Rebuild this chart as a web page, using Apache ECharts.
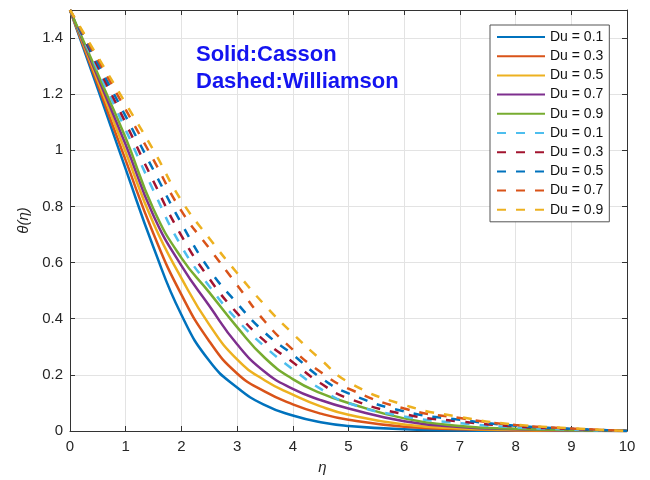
<!DOCTYPE html>
<html>
<head>
<meta charset="utf-8">
<script src="https://cdn.jsdelivr.net/npm/echarts@6/dist/echarts.min.js"></script>
<style>
html, body { margin: 0; padding: 0; background: #fff; }
#chart { width: 650px; height: 480px; }
</style>
</head>
<body>
<div id="chart"></div>
<script>
// eta grid shared by every curve
var eta = [0, 0.5, 1, 1.5, 2, 2.5, 3, 3.5, 4, 4.5, 5, 6, 7, 8, 9, 10];
var duLabels = ['Du = 0.1', 'Du = 0.3', 'Du = 0.5', 'Du = 0.7', 'Du = 0.9'];

// solid: Casson
var casson01 = [1.5, 1.218, 0.933, 0.654, 0.414, 0.25, 0.155, 0.092, 0.055, 0.031, 0.018, 0.006, 0.002, 0.0007, 0.0002, 0];
var casson03 = [1.5, 1.233, 0.964, 0.702, 0.486, 0.32, 0.205, 0.14, 0.095, 0.062, 0.04, 0.015, 0.006, 0.002, 0.0007, 0];
var casson05 = [1.5, 1.248, 0.993, 0.739, 0.545, 0.379, 0.255, 0.18, 0.13, 0.088, 0.058, 0.023, 0.009, 0.004, 0.0015, 0];
var casson07 = [1.5, 1.26, 1.02, 0.767, 0.589, 0.446, 0.309, 0.21, 0.15, 0.11, 0.08, 0.035, 0.014, 0.006, 0.002, 0];
var casson09 = [1.5, 1.272, 1.044, 0.79, 0.617, 0.494, 0.37, 0.26, 0.185, 0.135, 0.1, 0.045, 0.018, 0.008, 0.003, 0];

// dashed: Williamson
var will01 = [1.5, 1.286, 1.073, 0.856, 0.658, 0.516, 0.396, 0.3, 0.22, 0.15, 0.099, 0.052, 0.028, 0.013, 0.005, 0];
var will03 = [1.5, 1.298, 1.097, 0.889, 0.696, 0.543, 0.42, 0.32, 0.245, 0.17, 0.116, 0.06, 0.034, 0.016, 0.007, 0];
var will05 = [1.5, 1.31, 1.121, 0.929, 0.74, 0.576, 0.455, 0.35, 0.272, 0.19, 0.134, 0.07, 0.04, 0.019, 0.008, 0];
var will07 = [1.5, 1.323, 1.145, 0.966, 0.784, 0.651, 0.52, 0.39, 0.29, 0.21, 0.151, 0.08, 0.046, 0.021, 0.009, 0];
var will09 = [1.5, 1.333, 1.167, 1.0, 0.821, 0.687, 0.563, 0.448, 0.347, 0.255, 0.174, 0.093, 0.05, 0.023, 0.01, 0];

var cassonColors = ['#0072BD', '#D95319', '#EDB120', '#7E2F8E', '#77AC30'];
var willColors = ['#4DBEEE', '#A2142F', '#0072BD', '#D95319', '#EDB120'];

var cassonData = [casson01, casson03, casson05, casson07, casson09];
var willData = [will01, will03, will05, will07, will09];

var textColor = '#262626';
var axisColor = '#333';
var gridColor = '#e3e3e3';
var font = 'Liberation Sans, Arial, Helvetica, sans-serif';

function toPoints(vals) {
    return eta.map(function (x, i) { return [x, vals[i]]; });
}

function makeSeries(prefix, label, vals, color, dashed) {
    return {
        name: prefix + '|' + label,
        type: 'line',
        data: toPoints(vals),
        symbol: 'none',
        smooth: 0.5,
        color: color,
        lineStyle: {
            color: color,
            width: 2.5,
            type: dashed ? [9, 10] : 'solid'
        },
        animation: false
    };
}

var series = [];
var legendNames = [];
cassonData.forEach(function (vals, i) {
    series.push(makeSeries('C', duLabels[i], vals, cassonColors[i], false));
    legendNames.push('C|' + duLabels[i]);
});
willData.forEach(function (vals, i) {
    series.push(makeSeries('W', duLabels[i], vals, willColors[i], true));
    legendNames.push('W|' + duLabels[i]);
});

var chart = echarts.init(document.getElementById('chart'), null, {renderer: 'canvas'});

var option = {
    backgroundColor: '#fff',
    animation: false,
    grid: {left: 70, right: 23, top: 10, bottom: 43},
    legend: {
        data: legendNames,
        orient: 'vertical',
        left: 490,
        top: 25,
        padding: [5, 6, 5, 6],
        itemWidth: 48,
        itemHeight: 14,
        itemGap: 5.2,
        itemStyle: {opacity: 0},
        borderColor: '#555',
        borderWidth: 1,
        backgroundColor: '#fff',
        selectedMode: false,
        textStyle: {fontSize: 14, color: '#111', fontFamily: font},
        formatter: function (name) { return name.split('|')[1]; }
    },
    graphic: [
        {
            type: 'text',
            x: 196, y: 44,
            z: 100,
            style: {text: 'Solid:Casson', fill: '#1414f0', font: 'bold 22px ' + font, verticalAlign: 'alphabetic'}
        },
        {
            type: 'text',
            x: 196, y: 71,
            z: 100,
            style: {text: 'Dashed:Williamson', fill: '#1414f0', font: 'bold 22px ' + font, verticalAlign: 'alphabetic'}
        }
    ],
    xAxis: [
        {
            type: 'value',
            min: 0, max: 10, interval: 1,
            name: 'η',
            nameLocation: 'middle',
            nameGap: 29,
            nameTextStyle: {fontSize: 15, fontStyle: 'italic', color: textColor, fontFamily: font, padding: [0, 52, 0, 0]},
            axisLine: {show: true, onZero: false, lineStyle: {color: axisColor, width: 1}},
            axisTick: {show: true, inside: true, length: 5, lineStyle: {color: axisColor}},
            axisLabel: {fontSize: 15, color: textColor, fontFamily: font, margin: 8},
            splitLine: {show: true, lineStyle: {color: gridColor, width: 1}}
        },
        {
            type: 'value',
            position: 'top',
            min: 0, max: 10, interval: 1,
            axisLine: {show: true, onZero: false, lineStyle: {color: axisColor, width: 1}},
            axisTick: {show: true, inside: true, length: 5, lineStyle: {color: axisColor}},
            axisLabel: {show: false},
            splitLine: {show: false}
        }
    ],
    yAxis: [
        {
            type: 'value',
            min: 0, max: 1.5, interval: 0.2,
            name: 'θ(η)',
            nameLocation: 'middle',
            nameGap: 37,
            nameTextStyle: {fontSize: 15, fontStyle: 'italic', color: textColor, fontFamily: font},
            axisLine: {show: true, onZero: false, lineStyle: {color: axisColor, width: 1}},
            axisTick: {show: true, inside: true, length: 5, lineStyle: {color: axisColor}},
            axisLabel: {fontSize: 15, color: textColor, fontFamily: font, margin: 7, showMaxLabel: false},
            splitLine: {show: true, lineStyle: {color: gridColor, width: 1}}
        },
        {
            type: 'value',
            position: 'right',
            min: 0, max: 1.5, interval: 0.2,
            axisLine: {show: true, onZero: false, lineStyle: {color: axisColor, width: 1}},
            axisTick: {show: true, inside: true, length: 5, lineStyle: {color: axisColor}},
            axisLabel: {show: false},
            splitLine: {show: false}
        }
    ],
    series: series
};

chart.setOption(option);
</script>
</body>
</html>
